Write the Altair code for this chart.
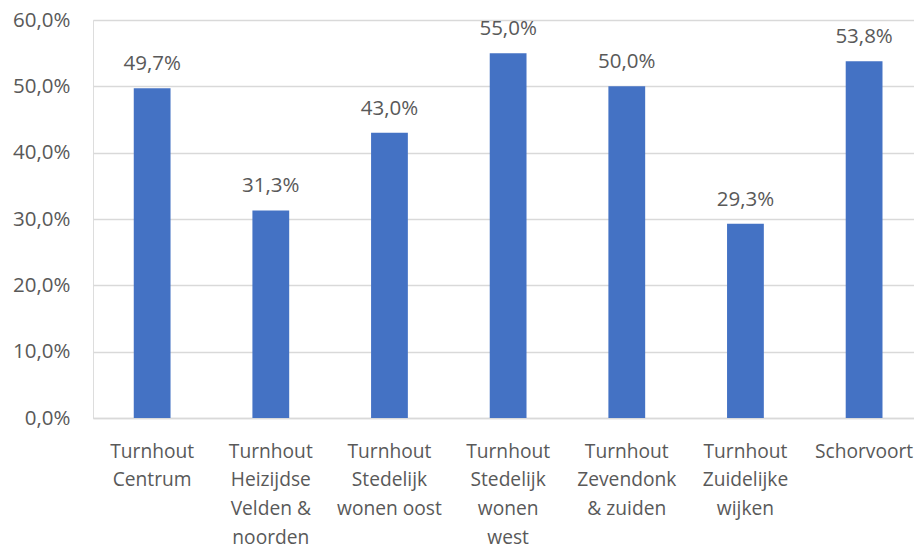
import altair as alt
import pandas as pd

categories = [
    "Turnhout|Centrum",
    "Turnhout|Heizijdse|Velden &|noorden",
    "Turnhout|Stedelijk|wonen oost",
    "Turnhout|Stedelijk|wonen|west",
    "Turnhout|Zevendonk|& zuiden",
    "Turnhout|Zuidelijke|wijken",
    "Schorvoort",
]
values = [0.497, 0.313, 0.430, 0.550, 0.500, 0.293, 0.538]
y_ticks = [0, 0.1, 0.2, 0.3, 0.4, 0.5, 0.6]

df = pd.DataFrame({"cat": categories, "val": values})

FONT = "Open Sans"
TXT = "#595959"
FS = 20.5
FSX = 19.2

base = alt.Chart(df).encode(
    x=alt.X(
        "cat:N",
        sort=categories,
        title=None,
        scale=alt.Scale(paddingInner=0.69, paddingOuter=0.3045, align=0.564),
        axis=alt.Axis(
            labelExpr="split(datum.label, '|')",
            labelAngle=0,
            labelFont=FONT,
            labelFontSize=FSX,
            labelColor=TXT,
            labelLineHeight=28.7,
            labelPadding=39,
            labelBaseline="alphabetic",
            ticks=False,
            domain=True,
            domainColor="#D9D9D9",
            domainWidth=1.5,
        ),
    ),
    y=alt.Y(
        "val:Q",
        title=None,
        scale=alt.Scale(domain=[0, 0.6], nice=False),
        axis=alt.Axis(
            values=y_ticks,
            labelExpr="replace(format(datum.value, '.1%'), '.', ',')",
            labelFont=FONT,
            labelFontSize=FS,
            labelColor=TXT,
            labelPadding=23,
            ticks=False,
            domain=False,
            grid=True,
            gridColor="#D9D9D9",
            gridWidth=1.5,
        ),
    ),
)

bars = base.mark_bar(color="#4472C4")
labels = base.transform_calculate(
    lbl="replace(format(datum.val, '.1%'), '.', ',')"
).mark_text(
    baseline="alphabetic", dy=-18, font=FONT, fontSize=FS, color=TXT
).encode(text="lbl:N")

chart = (
    (bars + labels)
    .properties(
        width=821,
        height=398,
        autosize=alt.AutoSizeParams(type="none"),
        padding={"left": 85, "top": 12, "right": 0, "bottom": 128},
    )
    .configure_view(stroke=None)
    .configure(background="white")
)

chart.save("out.html", embed_options={"renderer": "svg", "actions": False})
